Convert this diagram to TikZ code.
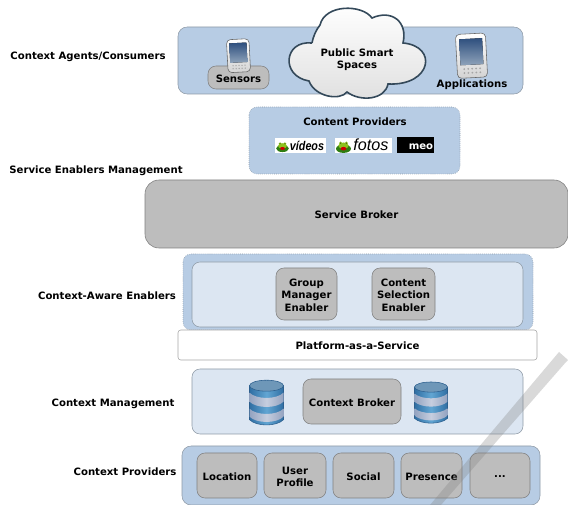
\documentclass[tikz,border=0pt]{standalone}
\usepackage{fontspec}
\setmainfont{DejaVu Sans}
\newfontfamily\logofont{Liberation Sans}
\usepackage{tikz}
\definecolor{midblue}{HTML}{B7CCE4}
\definecolor{paleblue}{HTML}{DCE6F2}
\definecolor{brokergray}{HTML}{BDBDBD}
\definecolor{edgegray}{HTML}{8E9AA6}
\definecolor{clouddark}{HTML}{34495A}
\definecolor{dbedge}{HTML}{2C5F8E}
\definecolor{dbdark}{HTML}{2F6EA3}
\definecolor{dblight}{HTML}{62A6D3}
\definecolor{dbtop}{HTML}{6E97B8}
\definecolor{lavdark}{HTML}{93A3C0}
\definecolor{lavlight}{HTML}{C6CEDF}
\definecolor{screendark}{HTML}{2E4F7E}
\definecolor{screenlight}{HTML}{8FA3BA}
\definecolor{frogdark}{HTML}{2F7D12}
\definecolor{froglight}{HTML}{8CC21E}
\tikzset{
  every node/.style={font=\fontsize{7.2}{8.7}\selectfont\bfseries, align=center, text=black, yshift=-.3mm},
  band/.style={draw=edgegray, fill=midblue, rounded corners=2.3mm},
  paleband/.style={draw=edgegray, fill=paleblue, rounded corners=2mm},
  dotband/.style={draw=edgegray, densely dotted, fill=midblue, rounded corners=2mm},
  graybox/.style={draw=gray, fill=brokergray, rounded corners=2mm},
  logofrog/.pic={
    \fill [frogdark] (0,1.5) ellipse [x radius=7.5, y radius=4.2];
    \fill [froglight] (0,-1.5) ellipse [x radius=5.2, y radius=3.2];
    \fill [froglight] (-2.8,-4) circle (1.7);
    \fill [froglight] (2.8,-4) circle (1.7);
    \fill [black] (-2.8,-4) circle (.5);
    \fill [black] (2.8,-4) circle (.5);
    \fill [red!80!black] (0,1.5) ellipse [x radius=2.8, y radius=1.8];
  },
  dbdisk/.pic={
    \path [draw=dbedge, left color=dbdark, right color=dbdark, middle color=dblight] (-17,-17) -- (-17,17) .. controls (-10,24) and (10,24) .. (17,17) -- (17,-17) -- cycle;
    \foreach \ya/\yb in {-10/-1, 6/14}
      \path [left color=lavdark, right color=lavdark, middle color=lavlight] (-17,\ya) .. controls (-10,\ya+7) and (10,\ya+7) .. (17,\ya) -- (17,\yb) .. controls (10,\yb+7) and (-10,\yb+7) .. (-17,\yb) -- cycle;
    \draw [draw=dbedge, fill=dbtop] (0,-17) ellipse [x radius=17, y radius=5.5];
  },
  phone/.pic={
    \draw [draw=gray!80!black, top color=white, bottom color=gray!35, rounded corners=1mm] (-15,-22) rectangle (15,22);
    \fill [top color=screendark, bottom color=screenlight] (-11.5,-17) rectangle (11.5,9);
    \foreach \kx in {-8,-4,0,4,8}
      \foreach \ky in {13,17}
        \fill [gray!70] (\kx,\ky) circle (1);
  }
}
\begin{document}
\begin{tikzpicture}[x=0.025cm,y=-0.025cm]
\useasboundingbox (0,0) rectangle (568,505);
% left hand labels
\node (agents) at (88,56) {Context Agents/Consumers};
\node (mgmt) at (96,170) {Service Enablers Management};
\node (aware) at (107,295) {Context-Aware Enablers};
\node (ctxmgmt) at (113,403) {Context Management};
\node (ctxprov) at (125,471) {Context Providers};
% agents row
\draw [band] (178,27) rectangle (523,94);
\draw [graybox] (208,66) rectangle (269,89) node[pos=.5] (sensors) {Sensors};
\pic [rotate=3, xscale=.75, yscale=.75] at (238.5,54.5) {phone};
\pic [rotate=3] at (471.5,54.5) {phone};
\node (apps) at (472,84) {Applications};
\draw [draw=clouddark, line width=.4mm, top color=white, bottom color=gray!25] (312,43) .. controls (284,40) and (280,76) .. (309,81) .. controls (315,97) and (340,101) .. (347,92) .. controls (360,102) and (385,100) .. (388,84) .. controls (432,86) and (438,46) .. (403,43) .. controls (408,22) and (392,9) .. (372,18) .. controls (362,4) and (325,4) .. (320,25) .. controls (316,30) and (313,37) .. (312,43);
\node (cloudtxt) at (357,58.5) {Public Smart\\Spaces};
% content providers
\draw [dotband] (249,107) rectangle (460,174);
\node (content) at (355,121) {Content Providers};
\fill [white] (275,138) rectangle (326,153);
\fill [white] (335,138) rectangle (392,153);
\draw [fill=black] (397,137) rectangle (433,152) node[pos=.5, xshift=1.5mm, yshift=-.3mm, text=white] (meo) {meo};
\pic [scale=.85] at (282.5,146) {logofrog};
\pic at (343.5,146) {logofrog};
\node [font=\fontsize{9}{9}\logofont\bfseries\itshape, xscale=.85] (videos) at (307,145) {vídeos};
\node [font=\fontsize{11.5}{10}\logofont\itshape] (fotos) at (371,144) {fotos};
% brokers and enablers
\draw [graybox, rounded corners=3.5mm] (145,180) rectangle (568,248) node[pos=.5] (sbroker) {Service Broker};
\draw [dotband] (183,254) rectangle (533,330);
\draw [paleband] (192,262) rectangle (523,327);
\draw [graybox] (276,268) rectangle (337,320) node[pos=.5] (group) {Group\\Manager\\Enabler};
\draw [graybox] (372,268) rectangle (435,320) node[pos=.5] (selection) {Content\\Selection\\Enabler};
\draw [draw=gray!70, fill=white, rounded corners=.7mm] (178,330) rectangle (537,360) node[pos=.5] (paas) {Platform-as-a-Service};
% context management
\draw [paleband] (192,369) rectangle (523,434);
\draw [graybox] (303,379) rectangle (401,424) node[pos=.5] (cbroker) {Context Broker};
\pic at (266.5,401.5) {dbdisk};
\pic [xscale=.97, yscale=.92] at (431,401.5) {dbdisk};
% context providers
\draw [band] (182,446) rectangle (540,505);
\draw [graybox] (197,453) rectangle (257,498) node[pos=.5] (location) {Location};
\draw [graybox] (264,453) rectangle (326,498) node[pos=.5] (profile) {User\\Profile};
\draw [graybox] (333,453) rectangle (394,498) node[pos=.5] (social) {Social};
\draw [graybox] (401,453) rectangle (462,498) node[pos=.5] (presence) {Presence};
\draw [graybox] (470,453) rectangle (530,498) node[pos=.5] (more) {...};
% stripe across the corner
\fill [gray, opacity=.3] (430,505) -- (559,352) -- (568,360) -- (566,362) -- (441,505) -- cycle;
\end{tikzpicture}
\end{document}
